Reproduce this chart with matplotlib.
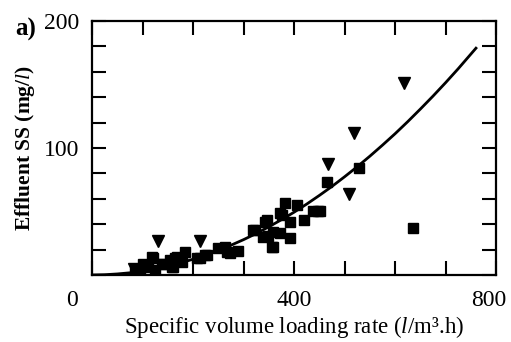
"""Effluent SS vs specific volume loading rate (panel a)"""

import matplotlib
matplotlib.use("Agg")
import matplotlib.pyplot as plt
import matplotlib.transforms as mtransforms

# squares: measured points
sq_x = [85, 95, 101, 111, 119, 121, 125, 139, 141, 154, 158, 160, 164, 168, 178, 184,
        208, 214, 224, 228, 250, 263, 267, 273, 289, 319, 323, 339, 343, 346, 349, 356,
        358, 358, 372, 372, 376, 382, 392, 392, 406, 420, 438, 448, 451, 465, 529, 636]
sq_y = [4, 2, 9, 6, 14, 13, 4, 9, 9, 12, 6, 6, 13, 14, 10, 18,
        13, 13, 16, 16, 21, 22, 18, 17, 19, 35, 35, 30, 42, 43, 31, 22,
        34, 22, 49, 33, 47, 57, 42, 29, 55, 43, 50, 50, 50, 73, 84, 37]

# triangles
tri_x = [83, 131, 214, 467, 509, 519, 618]
tri_y = [5, 27, 27, 87, 64, 112, 151]

# fitted curve
fit_x = [0, 25, 50, 75, 100, 125, 150, 175, 200, 225, 250, 275, 300, 325, 350, 375,
         400, 425, 450, 475, 500, 525, 550, 575, 600, 625, 650, 675, 700, 725, 760]
fit_y = [0, 0.2, 0.8, 1.7, 3.1, 4.8, 7.0, 9.5, 12.4, 15.6, 19.3, 23.4, 27.8, 32.6,
         37.9, 43.5, 49.4, 55.8, 62.6, 69.7, 77.3, 85.2, 93.5, 102.2, 111.2, 120.7,
         130.6, 140.8, 151.4, 162.4, 178.5]

x_ticks = [0, 100, 200, 300, 400, 500, 600, 700, 800]
x_labels = ['', '', '', '', '400', '', '', '', '800']
y_ticks = [0, 20, 40, 60, 80, 100, 120, 140, 160, 180, 200]
y_labels = ['', '', '', '', '', '100', '', '', '', '', '200']

plt.rcParams['font.family'] = ['Liberation Serif', 'DejaVu Serif']
plt.rcParams['mathtext.fontset'] = 'custom'
plt.rcParams['mathtext.rm'] = 'Liberation Serif'
plt.rcParams['mathtext.it'] = 'Liberation Serif:italic'

fig = plt.figure(figsize=(5.11, 3.42), dpi=100)
ax = fig.add_axes([0.180, 0.196, 0.791, 0.743])

ax.plot(fit_x, fit_y, color='black', lw=2.0, zorder=2, solid_joinstyle='round')
ax.plot(sq_x, sq_y, 's', color='black', ms=6.6, zorder=3)
ax.plot(tri_x, tri_y, 'v', color='black', ms=8, zorder=3)

ax.set_xlim(0, 800)
ax.set_ylim(0, 200)
ax.set_xticks(x_ticks)
ax.set_xticklabels(x_labels)
ax.set_yticks(y_ticks)
ax.set_yticklabels(y_labels)

for s in ax.spines.values():
    s.set_linewidth(1.6)
ax.tick_params(direction='in', length=10, width=1.5, top=True, right=True,
               labelsize=17)
ax.tick_params(axis='x', pad=11)
ax.tick_params(axis='y', pad=9)

# pull the 800 label a little left, as in the original
lab800 = ax.get_xticklabels()[-1]
lab800.set_transform(lab800.get_transform() +
                     mtransforms.ScaledTranslation(-7 / 100, 0, fig.dpi_scale_trans))

# shared zero label at the corner
ax.text(-40, -20, '0', fontsize=17, ha='center', va='center', clip_on=False)

ax.set_xlabel('Specific volume loading rate ($\\mathit{l}$/m\u00b3.h)', fontsize=16.5,
              labelpad=2)
ax.set_ylabel('Effluent SS (mg/$\\mathit{l}$)', fontsize=15.5, fontweight='bold',
              labelpad=5)
fig.text(0.03, 0.915, 'a)', fontsize=18, fontweight='bold', ha='left', va='center')

fig.savefig('out.png', dpi=100)
plt.close(fig)
